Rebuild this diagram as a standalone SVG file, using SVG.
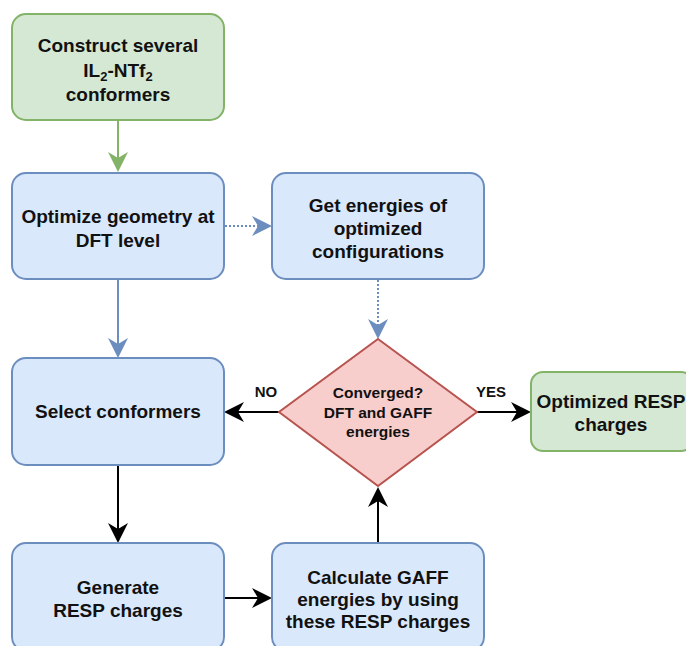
<svg xmlns="http://www.w3.org/2000/svg" width="686" height="646" viewBox="0 0 686 646">
<defs>
<style>
.t{font-family:"Liberation Sans",Arial,sans-serif;font-weight:bold;font-size:19px;fill:#111;text-anchor:middle}
.s{font-size:15.5px}
.l{font-size:15px}
.g{fill:#d5e8d4;stroke:#82b366;stroke-width:2}
.b{fill:#dae8fc;stroke:#6c8ebf;stroke-width:2}
.r{fill:#f8cecc;stroke:#b85450;stroke-width:2}
.e{fill:none;stroke-width:2}
</style>
<marker id="ab" viewBox="0 0 10 10" refX="9" refY="5" markerWidth="20" markerHeight="20" markerUnits="userSpaceOnUse" orient="auto"><path d="M0,0 L10,5 L0,10 L3,5 Z" fill="#6c8ebf"/></marker>
<marker id="ak" viewBox="0 0 10 10" refX="9" refY="5" markerWidth="20" markerHeight="20" markerUnits="userSpaceOnUse" orient="auto"><path d="M0,0 L10,5 L0,10 L3,5 Z" fill="#000"/></marker>
<marker id="agl" viewBox="0 0 10 10" refX="9" refY="5" markerWidth="20" markerHeight="20" markerUnits="userSpaceOnUse" orient="auto"><path d="M0,0 L10,5 L0,10 L3,5 Z" fill="#82b366"/></marker>
</defs>
<g id="connectors">
<path class="e" d="M118,121 V170" stroke="#82b366" marker-end="url(#agl)"/>
<path class="e" d="M118,280 V356" stroke="#6c8ebf" marker-end="url(#ab)"/>
<path class="e" d="M225,226 H270" stroke="#6c8ebf" stroke-dasharray="2,2" marker-end="url(#ab)"/>
<path class="e" d="M378,280 V337" stroke="#6c8ebf" stroke-dasharray="2,2" marker-end="url(#ab)"/>
<path class="e" d="M279,412 H226" stroke="#000" marker-end="url(#ak)"/>
<path class="e" d="M477,412 H529" stroke="#000" marker-end="url(#ak)"/>
<path class="e" d="M118,466 V541" stroke="#000" marker-end="url(#ak)"/>
<path class="e" d="M225,598 H270" stroke="#000" marker-end="url(#ak)"/>
<path class="e" d="M378,543 V489" stroke="#000" marker-end="url(#ak)"/>
<text class="t l" x="266" y="397">NO</text>
<text class="t l" x="491" y="397">YES</text>
</g>
<g id="construct">
<rect class="g" x="12" y="14" width="212" height="106" rx="14"/>
<text class="t" x="118" y="52">Construct several</text>
<text class="t" x="118" y="77">IL<tspan font-size="13" dy="4">2</tspan><tspan dy="-4">-NTf</tspan><tspan font-size="13" dy="4">2</tspan></text>
<text class="t" x="118" y="101">conformers</text>
</g>
<g id="optimize">
<rect class="b" x="12" y="173" width="212" height="106" rx="14"/>
<text class="t" x="118" y="223">Optimize geometry at</text>
<text class="t" x="118" y="247">DFT level</text>
</g>
<g id="getenergies">
<rect class="b" x="272" y="173" width="212" height="106" rx="14"/>
<text class="t" x="378" y="212">Get energies of</text>
<text class="t" x="378" y="235">optimized</text>
<text class="t" x="378" y="258">configurations</text>
</g>
<g id="select">
<rect class="b" x="12" y="358" width="212" height="107" rx="14"/>
<text class="t" x="118" y="418">Select conformers</text>
</g>
<g id="converged">
<path class="r" d="M378,339 L477,412 L378,486 L279,412 Z"/>
<text class="t s" x="378" y="398">Converged?</text>
<text class="t s" x="378" y="418">DFT and GAFF</text>
<text class="t s" x="378" y="437">energies</text>
</g>
<g id="optimized">
<rect class="g" x="531" y="372" width="162" height="79" rx="12"/>
<text class="t" x="611" y="408" font-size="20">Optimized RESP</text>
<text class="t" x="611" y="431" font-size="20">charges</text>
</g>
<g id="generate">
<rect class="b" x="12" y="543" width="212" height="108" rx="14"/>
<text class="t" x="118" y="594">Generate</text>
<text class="t" x="118" y="617">RESP charges</text>
</g>
<g id="calculate">
<rect class="b" x="272" y="543" width="212" height="108" rx="14"/>
<text class="t" x="378" y="584">Calculate GAFF</text>
<text class="t" x="378" y="606">energies by using</text>
<text class="t" x="378" y="628">these RESP charges</text>
</g>
</svg>
